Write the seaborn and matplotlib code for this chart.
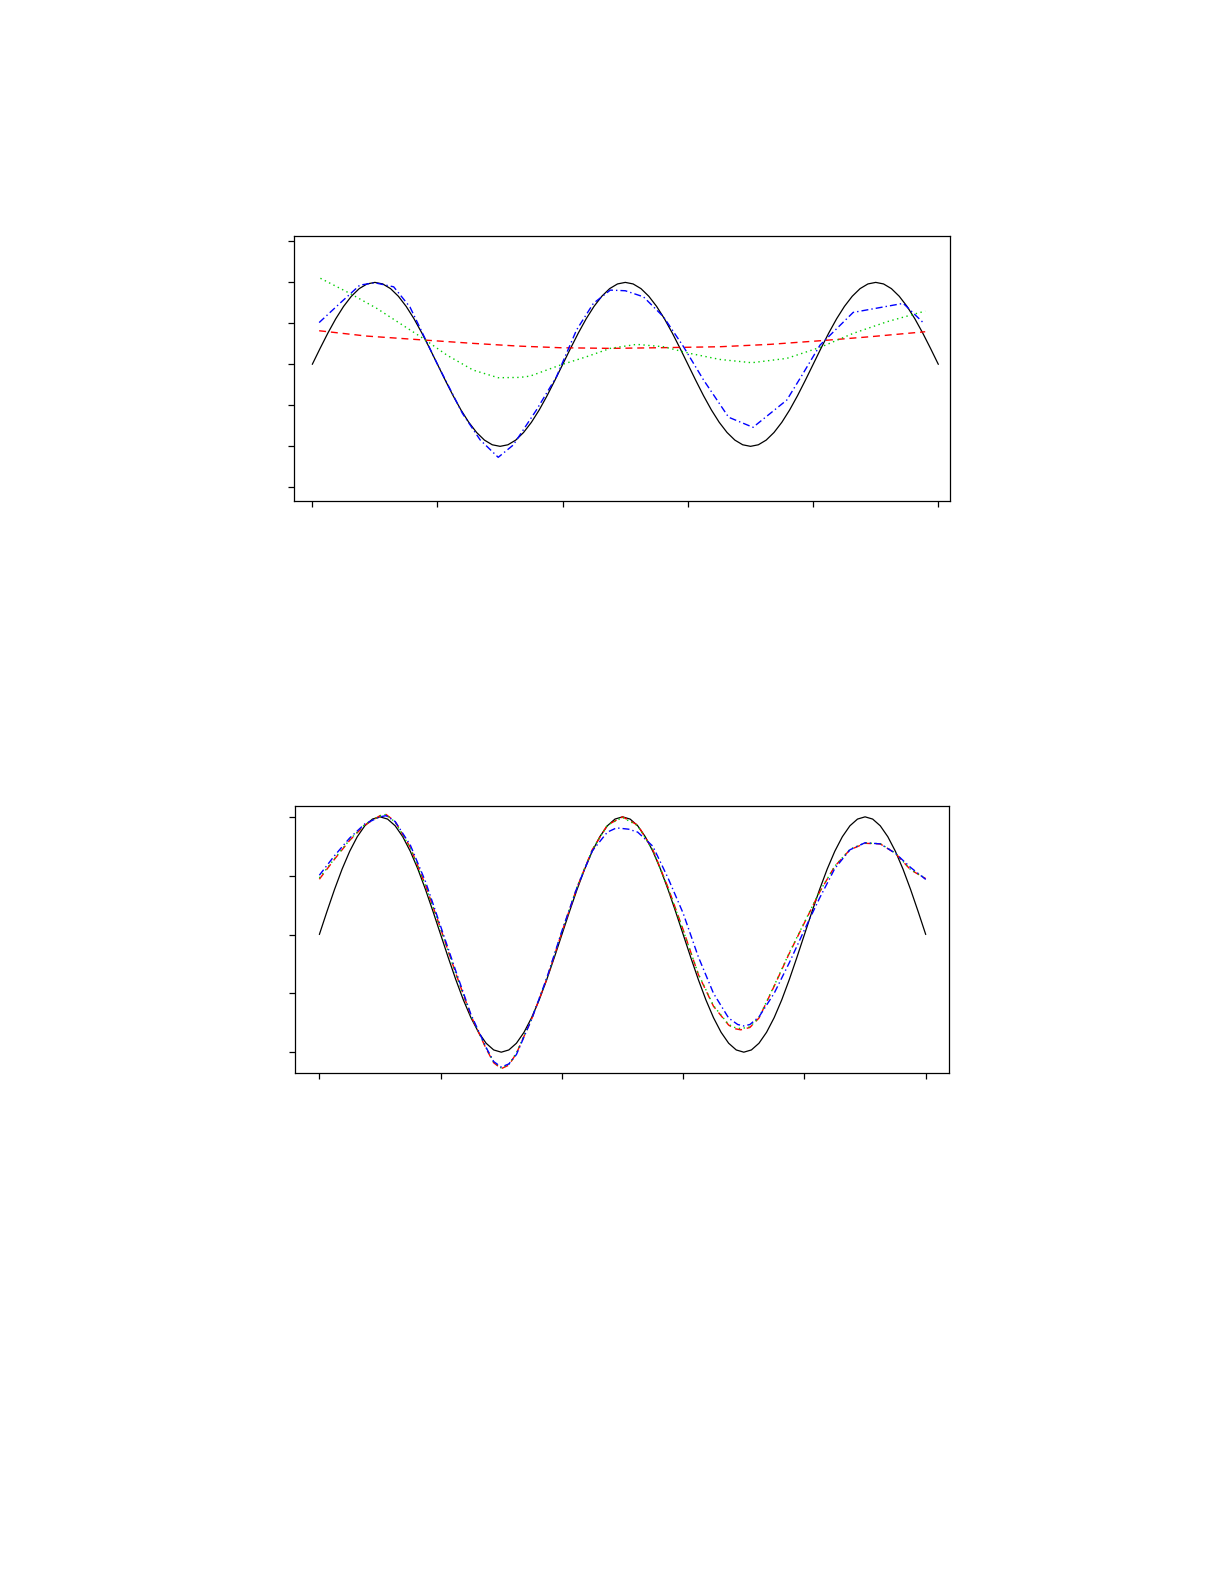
import numpy as np
import pandas as pd
import seaborn as sns
import matplotlib
matplotlib.use("Agg")
import matplotlib.pyplot as plt

# ---- data ----
# true curve (same in both panels), x from 0 to 1 in steps of 1/80
true_x = [i / 80 for i in range(81)]
true_y = [
    0, 0.195, 0.383, 0.556, 0.707, 0.831, 0.924, 0.981, 1, 0.981, 0.924, 0.831, 0.707, 0.556, 0.383, 0.195,
    0, -0.195, -0.383, -0.556, -0.707, -0.831, -0.924, -0.981, -1, -0.981, -0.924, -0.831, -0.707, -0.556, -0.383, -0.195,
    0, 0.195, 0.383, 0.556, 0.707, 0.831, 0.924, 0.981, 1, 0.981, 0.924, 0.831, 0.707, 0.556, 0.383, 0.195,
    0, -0.195, -0.383, -0.556, -0.707, -0.831, -0.924, -0.981, -1, -0.981, -0.924, -0.831, -0.707, -0.556, -0.383, -0.195,
    0, 0.195, 0.383, 0.556, 0.707, 0.831, 0.924, 0.981, 1, 0.981, 0.924, 0.831, 0.707, 0.556, 0.383, 0.195,
    0,
]

# top panel fits
top_red_x = [0.011, 0.087, 0.18, 0.257, 0.329, 0.396, 0.476, 0.555, 0.651, 0.731, 0.811, 0.891, 0.979]
top_red_y = [0.41, 0.345, 0.296, 0.256, 0.223, 0.203, 0.195, 0.203, 0.215, 0.244, 0.288, 0.337, 0.398]

top_green_x = [0.013, 0.06, 0.103, 0.14, 0.177, 0.215, 0.257, 0.297, 0.332, 0.348, 0.396, 0.438,
               0.476, 0.518, 0.561, 0.603, 0.651, 0.702, 0.758, 0.811, 0.864, 0.918, 0.979]
top_green_y = [1.05, 0.866, 0.683, 0.5, 0.317, 0.113, -0.07, -0.163, -0.159, -0.143, -0.009, 0.093,
               0.195, 0.244, 0.215, 0.134, 0.06, 0.02, 0.073, 0.207, 0.378, 0.52, 0.65]

top_blue_x = [0.011, 0.044, 0.076, 0.1, 0.13, 0.156, 0.2, 0.24, 0.268, 0.297, 0.321, 0.358, 0.39,
              0.422, 0.449, 0.476, 0.5, 0.529, 0.561, 0.593, 0.625, 0.665, 0.704, 0.758, 0.784,
              0.811, 0.864, 0.944, 0.977]
top_blue_y = [0.51, 0.744, 0.967, 0.995, 0.946, 0.70, 0.0, -0.6, -0.92, -1.134, -0.984, -0.557, -0.151,
              0.418, 0.744, 0.906, 0.898, 0.824, 0.58, 0.215, -0.191, -0.645, -0.768, -0.435, -0.11,
              0.235, 0.634, 0.744, 0.5]

# bottom panel fits
bot_red_x = [0.0, 0.025, 0.05, 0.075, 0.1, 0.11, 0.125, 0.15, 0.175, 0.2, 0.225, 0.25, 0.275, 0.2875,
             0.3, 0.3125, 0.325, 0.35, 0.375, 0.4, 0.425, 0.45, 0.475, 0.5, 0.525, 0.55, 0.575, 0.6,
             0.625, 0.65, 0.675, 0.685, 0.695, 0.71, 0.725, 0.75, 0.775, 0.8, 0.825, 0.85, 0.875, 0.9,
             0.925, 0.95, 0.975, 1.0]
bot_red_y = [0.47, 0.64, 0.80, 0.93, 1.01, 1.02, 0.96, 0.74, 0.42, 0.05, -0.33, -0.69, -0.97, -1.09,
             -1.14, -1.11, -1.01, -0.72, -0.38, 0.02, 0.40, 0.72, 0.93, 1.0, 0.93, 0.72, 0.40, 0.04,
             -0.34, -0.61, -0.77, -0.80, -0.81, -0.79, -0.71, -0.44, -0.16, 0.10, 0.36, 0.58, 0.72, 0.775,
             0.77, 0.69, 0.55, 0.475]

bot_green_x = bot_red_x
bot_green_y = [0.48, 0.645, 0.805, 0.935, 1.01, 1.02, 0.955, 0.735, 0.415, 0.045, -0.335, -0.69, -0.965,
               -1.085, -1.135, -1.105, -1.005, -0.715, -0.375, 0.025, 0.405, 0.72, 0.93, 0.995, 0.925,
               0.715, 0.395, 0.035, -0.335, -0.605, -0.765, -0.79, -0.80, -0.785, -0.705, -0.435,
               -0.155, 0.105, 0.365, 0.58, 0.725, 0.778, 0.772, 0.692, 0.552, 0.478]

bot_blue_x = [0.0, 0.025, 0.05, 0.075, 0.1, 0.11, 0.125, 0.15, 0.175, 0.2, 0.225, 0.25, 0.275, 0.2875,
              0.3, 0.3125, 0.325, 0.35, 0.375, 0.4, 0.425, 0.45, 0.475, 0.49, 0.51, 0.525, 0.55, 0.575,
              0.6, 0.625, 0.65, 0.675, 0.69, 0.7, 0.71, 0.725, 0.75, 0.775, 0.8, 0.825, 0.85, 0.875,
              0.9, 0.925, 0.95, 0.975, 1.0]
bot_blue_y = [0.504, 0.67, 0.82, 0.94, 1.0, 1.01, 0.96, 0.76, 0.45, 0.07, -0.31, -0.68, -0.96, -1.08,
              -1.126, -1.10, -1.02, -0.72, -0.37, 0.03, 0.40, 0.71, 0.87, 0.906, 0.895, 0.87, 0.75, 0.48,
              0.18, -0.19, -0.50, -0.71, -0.765, -0.777, -0.765, -0.70, -0.50, -0.24, 0.04, 0.31, 0.56,
              0.72, 0.78, 0.77, 0.69, 0.57, 0.468]

x_ticks = [0, 0.2, 0.4, 0.6, 0.8, 1.0]
top_y_ticks = [-1.5, -1.0, -0.5, 0, 0.5, 1.0, 1.5]
bot_y_ticks = [-1.0, -0.5, 0, 0.5, 1.0]

# ---- drawing ----
sns.set_style("ticks")
plt.rcParams['font.family'] = ['DejaVu Sans']

fig = plt.figure(figsize=(12.25, 15.85), dpi=100)
ax_top = fig.add_axes([0.2402, 0.6839, 0.5353, 0.1669])
ax_bot = fig.add_axes([0.2411, 0.3228, 0.5339, 0.1686])

RED = "#FF0000"
GREEN = "#00CD00"
BLUE = "#0000FF"
DASHED = (0, (5, 3.5))
DOTTED = (0, (1, 2.5))
DOTDASH = (0, (5, 2.2, 1, 2.2))


def draw_panel(ax, fits, y_ticks, xlim, ylim):
    sns.lineplot(x=true_x, y=true_y, color="black", linewidth=0.9, ax=ax)
    for fx, fy, col, ls in fits:
        sns.lineplot(x=fx, y=fy, color=col, linestyle=ls, linewidth=1.0, ax=ax)
    ax.set_xlim(*xlim)
    ax.set_ylim(*ylim)
    ax.set_xticks(x_ticks)
    ax.set_yticks(y_ticks)
    ax.set_xticklabels([])
    ax.set_yticklabels([])
    ax.tick_params(direction="out", length=4.5, width=0.9, color="black")
    for sp in ax.spines.values():
        sp.set_visible(True)
        sp.set_color("black")
        sp.set_linewidth(0.9)
    ax.set_xlabel("")
    ax.set_ylabel("")


draw_panel(ax_top,
           [(top_red_x, top_red_y, RED, DASHED),
            (top_green_x, top_green_y, GREEN, DOTTED),
            (top_blue_x, top_blue_y, BLUE, DOTDASH)],
           top_y_ticks, (-0.0288, 1.0186), (-1.667, 1.56))

draw_panel(ax_bot,
           [(bot_red_x, bot_red_y, RED, DASHED),
            (bot_green_x, bot_green_y, GREEN, DOTTED),
            (bot_blue_x, bot_blue_y, BLUE, DOTDASH)],
           bot_y_ticks, (-0.0396, 1.039), (-1.18, 1.091))

fig.savefig("out.png", dpi=100, facecolor="white")
